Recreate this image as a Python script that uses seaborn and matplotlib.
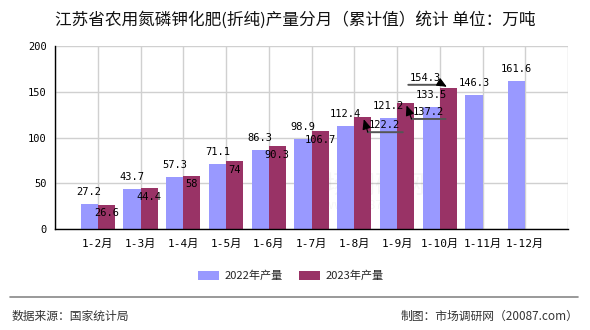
import numpy as np
import pandas as pd
import matplotlib
matplotlib.use("Agg")
import matplotlib.pyplot as plt
import matplotlib.transforms as mtransforms
from matplotlib.patches import Patch
from matplotlib.lines import Line2D
import seaborn as sns

# ---- data -------------------------------------------------------------
months = ["1-2月", "1-3月", "1-4月", "1-5月", "1-6月", "1-7月",
          "1-8月", "1-9月", "1-10月", "1-11月", "1-12月"]
prod_2022 = [27.2, 43.7, 57.3, 71.1, 86.3, 98.9, 112.4, 121.2, 133.5, 146.3, 161.6]
prod_2023 = [26.6, 44.4, 58, 74, 90.3, 106.7, 122.2, 137.2, 154.3, np.nan, np.nan]
series_names = ["2022年产量", "2023年产量"]
y_ticks = [0, 50, 100, 150, 200]

title = "江苏省农用氮磷钾化肥(折纯)产量分月（累计值）统计 单位：万吨"
source_note = "数据来源：国家统计局"
credit_note = "制图：市场调研网（20087.com）"

# ---- style ------------------------------------------------------------
sns.set_theme(style="white")
CJK = ["Noto Sans CJK SC", "DejaVu Sans"]
MONO = ["DejaVu Sans Mono", "Noto Sans CJK SC"]
plt.rcParams["font.family"] = CJK
plt.rcParams["axes.unicode_minus"] = False

colors = {"2022年产量": "#9999FF", "2023年产量": "#993366"}

df = pd.DataFrame({
    "month": months * 2,
    "series": [series_names[0]] * len(months) + [series_names[1]] * len(months),
    "value": prod_2022 + prod_2023,
}).dropna()

fig = plt.figure(figsize=(5.9, 3.3), dpi=100)
ax = fig.add_axes([55 / 590, 1 - 229 / 330, 513 / 590, 183 / 330])

sns.barplot(data=df, x="month", y="value", hue="series", order=months,
            hue_order=series_names, palette=colors, saturation=1,
            errorbar=None, width=0.8, gap=0, linewidth=0, edgecolor="none",
            legend=False, ax=ax, zorder=2)

# ---- axes ---------------------------------------------------------------
ax.set_xlim(-1, len(months))
ax.set_ylim(0, 200)
ax.set_xlabel("")
ax.set_ylabel("")
ax.set_yticks(y_ticks)
ax.set_yticklabels([str(t) for t in y_ticks], family=MONO, fontsize=7.5)
ax.set_xticks(range(-1, len(months) + 1))
ax.set_xticklabels([""] + months + [""], family=MONO, fontsize=8)
ax.tick_params(axis="both", which="both", direction="out", length=4,
               width=1, color="black", pad=2, labelcolor="black")
ax.tick_params(axis="x", pad=3)
ax.grid(True, color="#d0d0d0", linewidth=1)
ax.set_axisbelow(True)
for side in ("top", "right"):
    ax.spines[side].set_visible(False)
for side in ("left", "bottom"):
    ax.spines[side].set_color("black")
    ax.spines[side].set_linewidth(1)
    ax.spines[side].set_zorder(3)

# faint site watermark
ax.text(0.6, 0.23, "市场调研网", transform=ax.transAxes, ha="center",
        va="center", fontsize=18, color="#000000", alpha=0.035, zorder=1)
ax.text(0.6, 0.13, "www.20087.com", transform=ax.transAxes, ha="center",
        va="center", fontsize=9, color="#000000", alpha=0.035, zorder=1)

# ---- value labels -------------------------------------------------------
def offset(dx, dy):
    return mtransforms.offset_copy(ax.transData, fig, x=dx, y=dy, units="dots")

label_font = dict(family=MONO, fontsize=7.5, color="black", zorder=5)

# 2022 labels sit above their bars
for bar in ax.containers[0]:
    h = bar.get_height()
    xc = bar.get_x() + bar.get_width() / 2
    ax.text(xc, h, f"{h:g}", transform=offset(0, 12), ha="center",
            va="center", **label_font)

# 2023 labels sit just inside the bar tops; crowded ones get a callout
callouts = {
    6: dict(text=(22, -8), line=(5, 40, -15), tip=(1, -2)),
    7: dict(text=(23, -9), line=(6, 40, -15.5), tip=(1, -2)),
    8: dict(text=(-23, 10), line=(-40, -5, 3), tip=(-1.5, 1)),
}
for i, bar in enumerate(ax.containers[1]):
    h = bar.get_height()
    xc = bar.get_x() + bar.get_width() / 2
    if i in callouts:
        c = callouts[i]
        tx, ty = c["text"]
        x0, x1, ly = c["line"]
        ax.text(xc, h, f"{h:g}", transform=offset(tx, ty), ha="center",
                va="center", **label_font)
        ax.annotate("", xy=(xc, h), xycoords=offset(x1, ly),
                    xytext=(xc, h), textcoords=offset(x0, ly),
                    arrowprops=dict(arrowstyle="-", color="#555555", lw=1.4,
                                    shrinkA=0, shrinkB=0), zorder=4)
        start = (x0, ly) if x0 > 0 else (x1, ly)
        ax.annotate("", xy=(xc, h), xycoords=offset(*c["tip"]),
                    xytext=(xc, h), textcoords=offset(*start),
                    arrowprops=dict(arrowstyle="-|>,head_length=0.5,head_width=0.22",
                                    color="black", lw=0.8, shrinkA=0, shrinkB=0),
                    zorder=5)
    else:
        ax.text(xc, h, f"{h:g}", transform=offset(0, -8.5), ha="center",
                va="center", **label_font)

# ---- title, legend, footer ----------------------------------------------
fig.text(0.5, 1 - 20 / 330, title, ha="center", va="center",
         fontsize=12, color="#111111")

handles = [Patch(facecolor=colors[s], edgecolor="none", label=s) for s in series_names]
fig.legend(handles=handles, loc="center", bbox_to_anchor=(291 / 590, 1 - 276 / 330),
           ncol=2, frameon=False, fontsize=8, handlelength=1.9, handleheight=0.8,
           handletextpad=0.5, columnspacing=1.4, borderaxespad=0)

fig.add_artist(Line2D([10 / 590, 578 / 590], [1 - 297 / 330, 1 - 297 / 330],
                      color="#888888", lw=1.2, transform=fig.transFigure))
fig.text(12 / 590, 1 - 316 / 330, source_note, ha="left", va="center",
         fontsize=8.5, color="#333333")
fig.text(578 / 590, 1 - 316 / 330, credit_note, ha="right", va="center",
         fontsize=8.5, color="#333333")

fig.savefig("out.png", dpi=100)
